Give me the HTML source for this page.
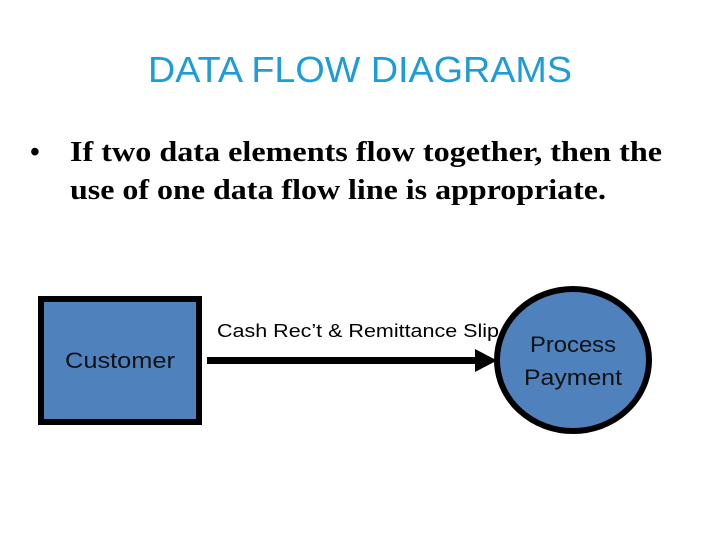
<!DOCTYPE html>
<html><head><meta charset="utf-8"><style>html,body{margin:0;padding:0;background:#fff}svg{display:block}</style></head>
<body>
<svg width="720" height="540" viewBox="0 0 720 540" xmlns="http://www.w3.org/2000/svg">
<text x="148" y="82" font-family="Liberation Sans, sans-serif" font-size="36" fill="#1e9cd8" textLength="424" lengthAdjust="spacingAndGlyphs">DATA FLOW DIAGRAMS</text>
<text x="30" y="161" font-family="Liberation Serif, serif" font-size="28" font-weight="bold">•</text>
<text x="70" y="161" font-family="Liberation Serif, serif" font-size="28" font-weight="bold" textLength="592" lengthAdjust="spacingAndGlyphs">If two data elements flow together, then the</text>
<text x="70" y="199" font-family="Liberation Serif, serif" font-size="28" font-weight="bold" textLength="536" lengthAdjust="spacingAndGlyphs">use of one data flow line is appropriate.</text>
<rect x="41" y="299" width="158" height="123" fill="#4f81bd" stroke="#000" stroke-width="6"/>
<text x="120" y="368" text-anchor="middle" font-family="Liberation Sans, sans-serif" font-size="22" fill="#111" textLength="110" lengthAdjust="spacingAndGlyphs">Customer</text>
<rect x="207" y="357" width="270" height="7" fill="#000"/>
<polygon points="475,349 497,360.5 475,372" fill="#000"/>
<text x="217" y="337" font-family="Liberation Sans, sans-serif" font-size="18" fill="#000" textLength="282" lengthAdjust="spacingAndGlyphs">Cash Rec’t &amp; Remittance Slip</text>
<ellipse cx="573" cy="360" rx="76" ry="71" fill="#4f81bd" stroke="#000" stroke-width="6"/>
<text x="573" y="352" text-anchor="middle" font-family="Liberation Sans, sans-serif" font-size="22" fill="#111" textLength="86" lengthAdjust="spacingAndGlyphs">Process</text>
<text x="573" y="385" text-anchor="middle" font-family="Liberation Sans, sans-serif" font-size="22" fill="#111" textLength="98" lengthAdjust="spacingAndGlyphs">Payment</text>
</svg>
</body></html>
